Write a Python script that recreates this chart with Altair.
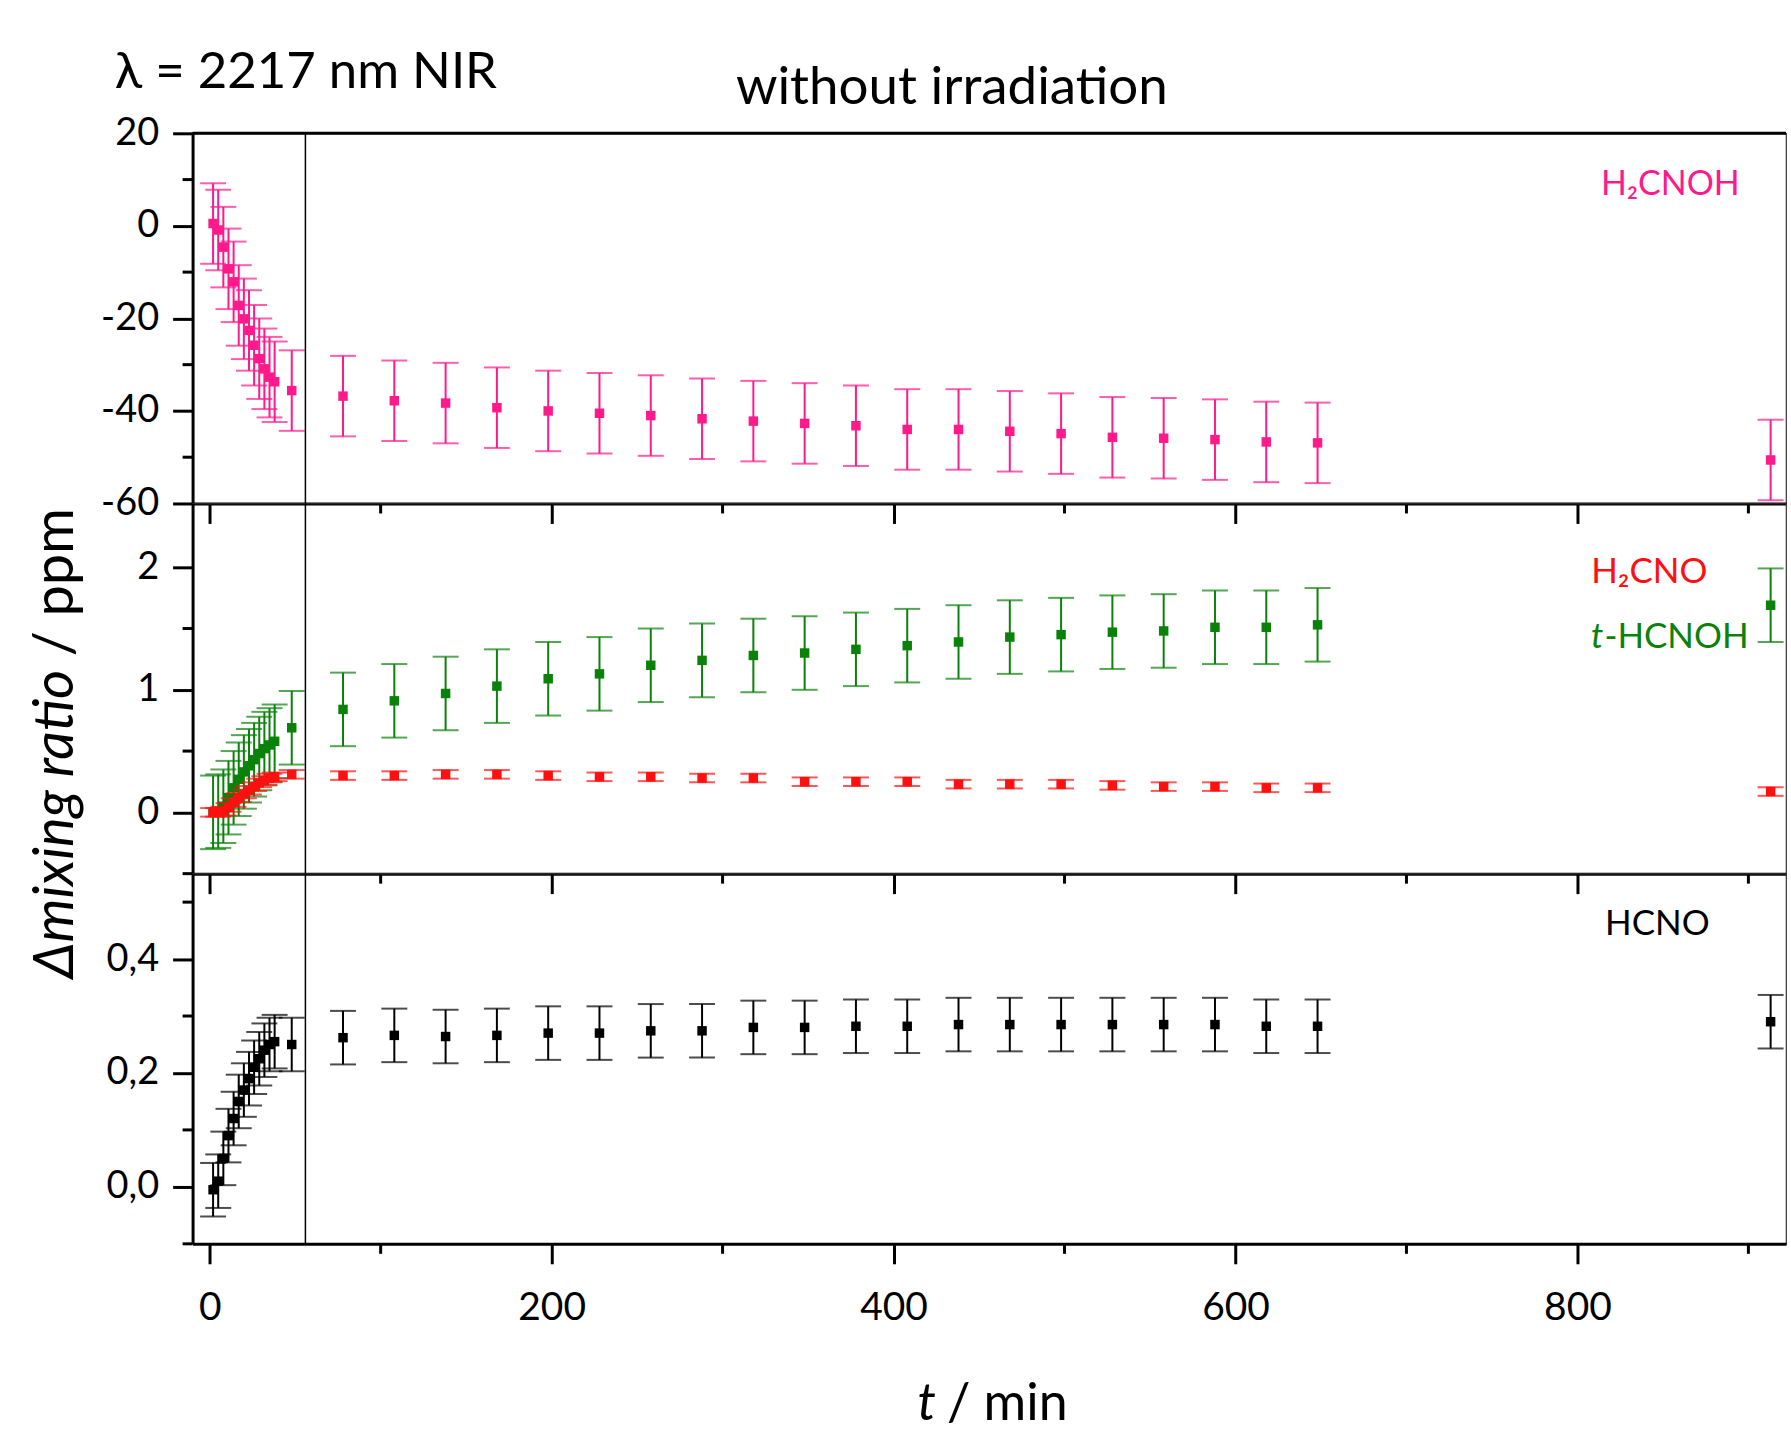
import altair as alt
import pandas as pd

# ---------------- data ----------------
times = [2, 5, 8, 11, 14, 17, 20, 23, 26, 29, 32, 35, 38,
         48, 78, 108, 138, 168, 198, 228, 258, 288, 318, 348, 378,
         408, 438, 468, 498, 528, 558, 588, 618, 648, 913]

h2cnoh = [0.5, -0.9, -4.6, -9.3, -12.1, -17.2, -20.1, -22.6, -25.8, -28.7, -30.9, -32.7, -33.7,
          -35.6, -36.8, -37.8, -38.3, -39.3, -40.0, -40.5, -41.0, -41.7, -42.2, -42.7, -43.2,
          -44.0, -44.0, -44.4, -44.9, -45.7, -45.9, -46.2, -46.7, -46.9, -50.6]
h2cnoh_err = [8.7] * len(times)

h2cno = [0.0, 0.0, 0.01, 0.04, 0.08, 0.12, 0.15, 0.18, 0.21, 0.24, 0.26, 0.28, 0.29,
         0.31, 0.30, 0.30, 0.31, 0.31, 0.30, 0.29, 0.29, 0.28, 0.28, 0.25, 0.25,
         0.25, 0.23, 0.23, 0.23, 0.22, 0.21, 0.21, 0.20, 0.20, 0.17]
h2cno_err = [0.035] * len(times)

thcnoh = [0.0, 0.01, 0.05, 0.12, 0.20, 0.27, 0.33, 0.38, 0.43, 0.48, 0.52, 0.55, 0.58,
          0.69, 0.84, 0.91, 0.97, 1.03, 1.09, 1.13, 1.20, 1.24, 1.28, 1.30, 1.33,
          1.36, 1.39, 1.43, 1.45, 1.47, 1.48, 1.51, 1.51, 1.53, 1.69]
thcnoh_err = [0.30] * len(times)

hcno = [-0.005, 0.01, 0.05, 0.09, 0.12, 0.15, 0.17, 0.19, 0.21, 0.225, 0.24, 0.25, 0.255,
        0.25, 0.262, 0.266, 0.264, 0.266, 0.27, 0.27, 0.274, 0.274, 0.28, 0.28, 0.282,
        0.282, 0.285, 0.285, 0.285, 0.285, 0.285, 0.285, 0.282, 0.282, 0.29]
hcno_err = [0.047] * len(times)

separator_t = [56]

x_major = [0, 200, 400, 600, 800]
x_minor = [100, 300, 500, 700, 900]

p1_major = [20, 0, -20, -40, -60]
p1_minor = [10, -10, -30, -50]
p2_major = [0, 1, 2]
p2_minor = [1.5, 0.5, -0.5]
p3_major = [0.0, 0.2, 0.4]
p3_minor = [0.5, 0.3, 0.1, -0.1]

title_left = ["λ = 2217 nm NIR"]
title_center = ["without irradiation"]
ytitle_italic = ["Δmixing ratio"]
ytitle_regular = ["/ ppm"]
xtitle_italic = ["t"]
xtitle_regular = ["/ min"]
lab_h2cnoh = ["H₂CNOH"]
lab_h2cno = ["H₂CNO"]
lab_t = ["t"]
lab_hcnoh = ["-HCNOH"]
lab_hcno = ["HCNO"]

PINK = "#ff1a8c"
RED = "#ff1010"
GREEN = "#0a820a"
BLACK = "#000000"

FONT = "Lato"
W, H = 1597, 371
X_DOMAIN = [-10, 922]
xscale = alt.Scale(domain=X_DOMAIN, nice=False, zero=False)


def frame(values, errs):
    return pd.DataFrame({
        "t": times,
        "v": values,
        "lo": [v - e for v, e in zip(values, errs)],
        "hi": [v + e for v, e in zip(values, errs)],
    })


def series_layers(values, errs, color, yscale, xax, yax):
    base = alt.Chart(frame(values, errs))
    X = alt.X("t:Q", scale=xscale, axis=xax)
    whisk = base.mark_rule(color=color, strokeWidth=2).encode(
        x=X, y=alt.Y("lo:Q", scale=yscale, axis=yax), y2="hi:Q",
    )
    cap_lo = base.mark_tick(orient="horizontal", size=26, thickness=2, color=color).encode(
        x=X, y=alt.Y("lo:Q", scale=yscale, axis=yax),
    )
    cap_hi = base.mark_tick(orient="horizontal", size=26, thickness=2, color=color).encode(
        x=X, y=alt.Y("hi:Q", scale=yscale, axis=yax),
    )
    pts = base.mark_square(size=90, color=color, opacity=1).encode(
        x=X, y=alt.Y("v:Q", scale=yscale, axis=yax),
    )
    return [whisk, cap_lo, cap_hi, pts]


def common_layers(yscale, yminor, xax, yax):
    minor_y = alt.Chart(pd.DataFrame({"m": yminor})).mark_rule(color="black", strokeWidth=3).encode(
        y=alt.Y("m:Q", scale=yscale, axis=yax),
        x=alt.value(-10), x2=alt.value(0),
    )
    minor_x = alt.Chart(pd.DataFrame({"m": x_minor})).mark_rule(color="black", strokeWidth=3).encode(
        x=alt.X("m:Q", scale=xscale, axis=xax),
        y=alt.value(H), y2=alt.value(H + 10),
    )
    sep = alt.Chart(pd.DataFrame({"t": separator_t})).mark_rule(color="black", strokeWidth=1.5).encode(
        x=alt.X("t:Q", scale=xscale, axis=xax),
        y=alt.value(0), y2=alt.value(H),
    )
    return [minor_y, minor_x, sep]


def text_layer(txt, x, y, color="black", size=34, align="center", italic=False, angle=0):
    kw = dict(font=FONT, fontSize=size, color=color, align=align, baseline="middle")
    if italic:
        kw["fontStyle"] = "italic"
    if angle:
        kw["angle"] = angle
    return alt.Chart(pd.DataFrame({"s": txt})).mark_text(**kw).encode(
        text="s:N", x=alt.value(x), y=alt.value(y)
    )


def xaxis(labels):
    kw = dict(orient="bottom", values=x_major, tickSize=20, tickWidth=3, tickColor="black",
              domainWidth=3, domainColor="black", grid=False, title=None, labels=labels)
    if labels:
        kw.update(labelFont=FONT, labelFontSize=39, labelColor="black", labelPadding=25)
    return alt.Axis(**kw)


def yaxis(values, expr):
    return alt.Axis(orient="left", values=values, tickSize=20, tickWidth=3, tickColor="black",
                    domainWidth=3, domainColor="black", grid=False, title=None,
                    labelFont=FONT, labelFontSize=38, labelColor="black", labelPadding=14,
                    labelExpr=expr)


# panel 1 top border (frame decoration)
top_border = alt.Chart(pd.DataFrame({"s": ["frame"]})).mark_rule(color="black", strokeWidth=3).encode(
    x=alt.value(0), x2=alt.value(W), y=alt.value(0)
)

# ---------------- panel 1 : H2CNOH ----------------
ys1 = alt.Scale(domain=[-60, 20], nice=False, zero=False)
xa1, ya1 = xaxis(False), yaxis(p1_major, "'' + datum.value")
p1 = alt.layer(
    *series_layers(h2cnoh, h2cnoh_err, PINK, ys1, xa1, ya1),
    *common_layers(ys1, p1_minor, xa1, ya1),
    top_border,
    text_layer(lab_h2cnoh, 1481, 52, PINK, 34),
    text_layer(title_left, -78, -60, "black", 51, align="left"),
    text_layer(title_center, 761, -45, "black", 53),
).properties(width=W, height=H)

# ---------------- panel 2 : H2CNO and t-HCNOH ----------------
ys2 = alt.Scale(domain=[-0.5, 2.52], nice=False, zero=False)
xa2, ya2 = xaxis(False), yaxis(p2_major, "'' + datum.value")
p2 = alt.layer(
    *series_layers(thcnoh, thcnoh_err, GREEN, ys2, xa2, ya2),
    *series_layers(h2cno, h2cno_err, RED, ys2, xa2, ya2),
    *common_layers(ys2, p2_minor, xa2, ya2),
    text_layer(lab_h2cno, 1460, 69, RED, 35),
    text_layer(lab_t, 1414, 134, GREEN, 35, align="right", italic=True),
    text_layer(lab_hcnoh, 1415, 134, GREEN, 35, align="left"),
    text_layer(ytitle_italic, -137, 167, "black", 56, align="right", italic=True, angle=270),
    text_layer(ytitle_regular, -137, 153, "black", 56, align="left", angle=270),
).properties(width=W, height=H)

# ---------------- panel 3 : HCNO ----------------
ys3 = alt.Scale(domain=[-0.1, 0.55], nice=False, zero=False)
xa3, ya3 = xaxis(True), yaxis(p3_major, "replace(format(datum.value, '.1f'), '.', ',')")
p3 = alt.layer(
    *series_layers(hcno, hcno_err, BLACK, ys3, xa3, ya3),
    *common_layers(ys3, p3_minor, xa3, ya3),
    text_layer(lab_hcno, 1468, 50, BLACK, 35),
    text_layer(xtitle_italic, 745, 532, "black", 52, align="right", italic=True),
    text_layer(xtitle_regular, 756, 532, "black", 52, align="left"),
).properties(width=W, height=H)

chart = alt.vconcat(p1, p2, p3, spacing=0, bounds="flush").properties(
    padding={"left": 27, "top": 45, "right": 2, "bottom": 0},
    background="white",
).configure_view(stroke="#333333", strokeWidth=1.2)

chart.save("out.html", embed_options={"renderer": "svg", "actions": False})
